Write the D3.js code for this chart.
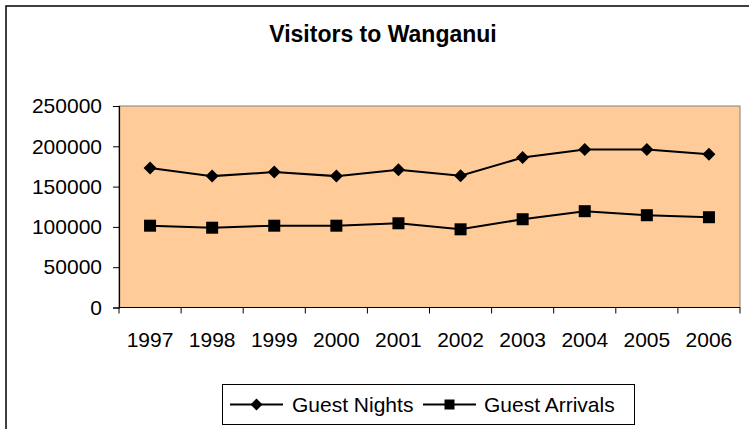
<!DOCTYPE html>
<html>
<head>
<meta charset="utf-8">
<script src="https://cdn.jsdelivr.net/npm/d3@7"></script>
<style>
  html, body { margin: 0; padding: 0; background: #fff; }
  svg { display: block; font-family: "Liberation Sans", Arial, sans-serif; }
</style>
</head>
<body>
<svg id="chart" width="749" height="429"></svg>
<script>
const years = ["1997","1998","1999","2000","2001","2002","2003","2004","2005","2006"];
const guestNights = [173000, 163000, 168000, 163000, 171000, 163500, 186000, 196000, 196000, 190000];
const guestArrivals = [101500, 99000, 101500, 101500, 104500, 97000, 109500, 119500, 114500, 112000];
const yTicks = [0, 50000, 100000, 150000, 200000, 250000];
const seriesNames = ["Guest Nights", "Guest Arrivals"];

const svg = d3.select("#chart");
const W = 749, H = 429;
const plot = { left: 119, right: 740, top: 106, bottom: 307.5 };

// Outer chart border (extends past the right/bottom of the window)
svg.append("rect")
  .attr("x", 6).attr("y", 6)
  .attr("width", W + 20).attr("height", H + 20)
  .attr("fill", "#fff").attr("stroke", "#000").attr("stroke-width", 1.5);

// Title
svg.append("text")
  .attr("x", 383).attr("y", 42)
  .attr("text-anchor", "middle")
  .attr("font-weight", "bold").attr("font-size", 23)
  .attr("fill", "#000")
  .text("Visitors to Wanganui");

const x = d3.scaleBand().domain(years).range([plot.left, plot.right]);
const y = d3.scaleLinear().domain([0, 250000]).range([plot.bottom, plot.top]);

// Plot area
svg.append("rect")
  .attr("x", plot.left).attr("y", plot.top)
  .attr("width", plot.right - plot.left).attr("height", plot.bottom - plot.top)
  .attr("fill", "#FFCC99").attr("stroke", "#808080").attr("stroke-width", 1);

// Y axis
const yAxis = d3.axisLeft(y).tickValues(yTicks).tickSize(6).tickPadding(11).tickFormat(d3.format("d"));
const gy = svg.append("g").attr("transform", `translate(${plot.left},0)`).call(yAxis);
gy.select(".domain").attr("stroke", "#000").attr("stroke-width", 1.2);
gy.selectAll(".tick line").attr("stroke", "#000");
gy.selectAll(".tick text").attr("font-size", 21).attr("fill", "#000")
  .attr("font-family", "Liberation Sans, Arial, sans-serif");

// X axis: line + ticks at category boundaries
const gx = svg.append("g").attr("transform", `translate(0,${plot.bottom})`);
gx.append("line").attr("x1", plot.left).attr("x2", plot.right)
  .attr("stroke", "#000").attr("stroke-width", 1.2);
const boundaries = years.map(d => x(d)).concat([x(years[years.length - 1]) + x.bandwidth()]);
gx.selectAll("line.tk").data(boundaries).enter().append("line")
  .attr("class", "tk")
  .attr("x1", d => d).attr("x2", d => d).attr("y1", 0).attr("y2", 6)
  .attr("stroke", "#000");
gx.selectAll("text").data(years).enter().append("text")
  .attr("x", d => x(d) + x.bandwidth() / 2).attr("y", 39)
  .attr("text-anchor", "middle").attr("font-size", 21).attr("fill", "#000")
  .text(d => d);

const cx = d => x(d) + x.bandwidth() / 2;
const line = d3.line().x((d, i) => cx(years[i])).y(d => y(d));

function diamondPath(px, py, r) {
  return `M${px},${py - r}L${px + r},${py}L${px},${py + r}L${px - r},${py}Z`;
}

// Guest Nights
svg.append("path").datum(guestNights).attr("d", line)
  .attr("fill", "none").attr("stroke", "#000").attr("stroke-width", 2);
svg.selectAll("path.dm").data(guestNights).enter().append("path")
  .attr("class", "dm")
  .attr("d", (d, i) => diamondPath(cx(years[i]), y(d), 6.5))
  .attr("fill", "#000");

// Guest Arrivals
svg.append("path").datum(guestArrivals).attr("d", line)
  .attr("fill", "none").attr("stroke", "#000").attr("stroke-width", 2);
svg.selectAll("rect.sq").data(guestArrivals).enter().append("rect")
  .attr("class", "sq")
  .attr("x", (d, i) => cx(years[i]) - 6).attr("y", d => y(d) - 6)
  .attr("width", 12).attr("height", 12)
  .attr("fill", "#000");

// Legend
const lg = svg.append("g");
lg.append("rect").attr("x", 222.5).attr("y", 384.5).attr("width", 412).attr("height", 40)
  .attr("fill", "#fff").attr("stroke", "#000").attr("stroke-width", 1);
const ly = 404.5;
const items = [
  { name: seriesNames[0], x0: 230, x1: 283, type: "diamond", tx: 292 },
  { name: seriesNames[1], x0: 423, x1: 476, type: "square", tx: 484 }
];
items.forEach(it => {
  lg.append("line").attr("x1", it.x0).attr("x2", it.x1).attr("y1", ly).attr("y2", ly)
    .attr("stroke", "#000").attr("stroke-width", 2);
  const mx = (it.x0 + it.x1) / 2;
  if (it.type === "diamond") {
    lg.append("path").attr("d", diamondPath(mx, ly, 6)).attr("fill", "#000");
  } else {
    lg.append("rect").attr("x", mx - 5).attr("y", ly - 5).attr("width", 10).attr("height", 10).attr("fill", "#000");
  }
  lg.append("text").attr("x", it.tx).attr("y", ly + 7.5).attr("font-size", 21).attr("fill", "#000").text(it.name);
});
</script>
</body>
</html>
